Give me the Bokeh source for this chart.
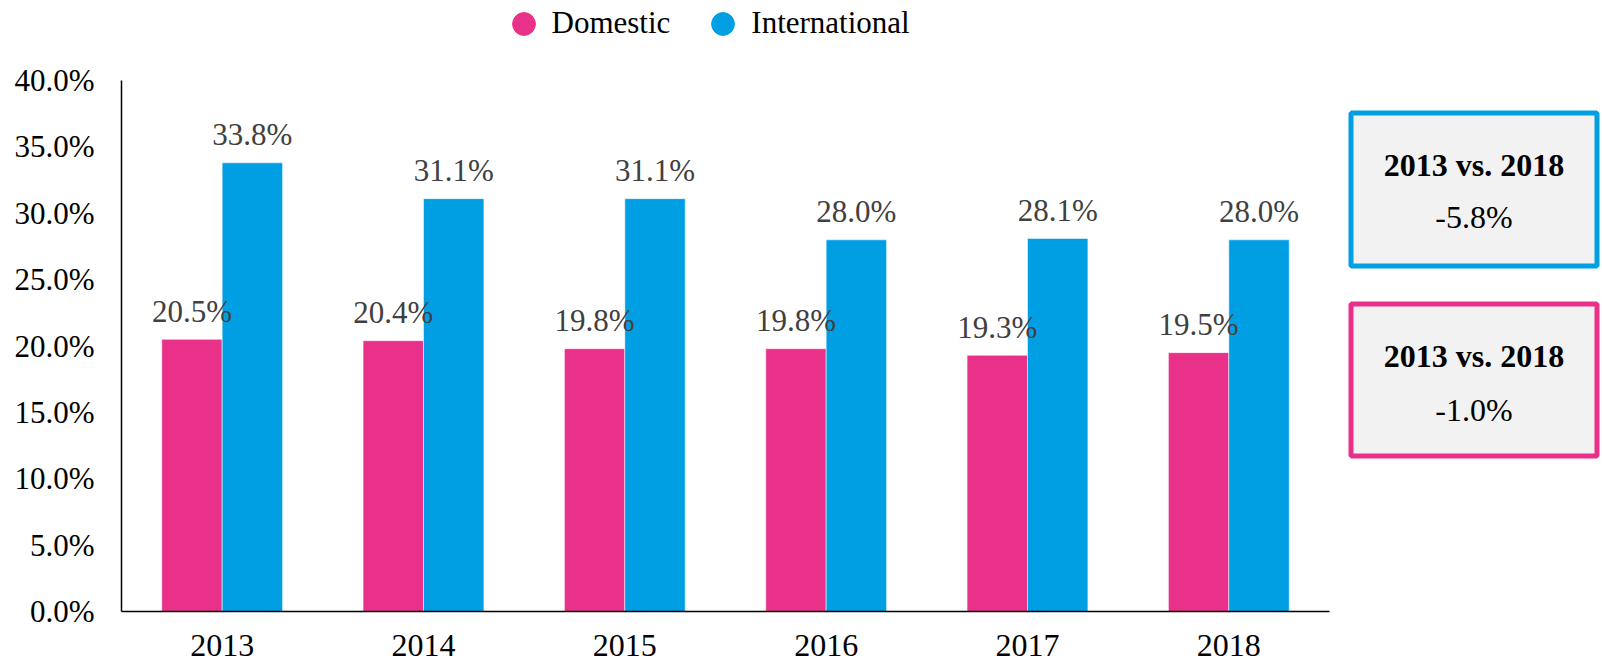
from bokeh.plotting import figure
from bokeh.models import (ColumnDataSource, FactorRange, Range1d, Legend, LegendItem,
                          NumeralTickFormatter, FixedTicker)
from bokeh.transform import dodge
from bokeh.layouts import row
from bokeh.embed import file_html
from bokeh.resources import INLINE
from bokeh.core.properties import value

years = ["2013", "2014", "2015", "2016", "2017", "2018"]
domestic = [20.5, 20.4, 19.8, 19.8, 19.3, 19.5]
international = [33.8, 31.1, 31.1, 28.0, 28.1, 28.0]
series_names = ["Domestic", "International"]
y_ticks = [0, 5, 10, 15, 20, 25, 30, 35, 40]

PINK = "#E9318A"
BLUE = "#009FE3"
FONT = "Liberation Serif"

src = ColumnDataSource(dict(
    year=years,
    dom=[v / 100 for v in domestic],
    intl=[v / 100 for v in international],
    dom_lab=["%.1f%%" % v for v in domestic],
    intl_lab=["%.1f%%" % v for v in international],
))

H = 661
FRAME_BOTTOM = 611          # pixel row of the x axis
AXIS_TOP = 80               # pixel row of the 40% tick
y_max = y_ticks[-1] / 100
y_end = y_max * FRAME_BOTTOM / (FRAME_BOTTOM - AXIS_TOP)

p = figure(x_range=FactorRange(*years, range_padding=0), y_range=Range1d(0, y_end),
           width=1338, height=H, output_backend="svg", toolbar_location=None,
           min_border_left=121, min_border_right=9, min_border_top=0,
           min_border_bottom=H - FRAME_BOTTOM)
p.outline_line_color = None
p.xgrid.grid_line_color = None
p.ygrid.grid_line_color = None

r_dom = p.vbar(x=dodge("year", -0.15, range=p.x_range), top="dom", width=0.3, source=src,
               fill_color=PINK, line_color="white", line_alpha=0.5, line_width=1)
r_int = p.vbar(x=dodge("year", 0.15, range=p.x_range), top="intl", width=0.3, source=src,
               fill_color=BLUE, line_color="white", line_alpha=0.5, line_width=1)

for xoff, col in [(-0.15, "dom"), (0.15, "intl")]:
    p.text(x=dodge("year", xoff, range=p.x_range), y=col, text=col + "_lab", source=src,
           text_align="center", text_baseline="alphabetic", y_offset=-28,
           text_font=value(FONT), text_font_size="31px", text_color="#404040")

# axes
p.yaxis.ticker = FixedTicker(ticks=[t / 100 for t in y_ticks])
p.yaxis.formatter = NumeralTickFormatter(format="0.0%")
p.yaxis.bounds = (0, y_max)
for ax in (p.xaxis[0], p.yaxis[0]):
    ax.major_tick_line_color = None
    ax.minor_tick_line_color = None
    ax.major_tick_out = 0
    ax.major_tick_in = 0
    ax.minor_tick_out = 0
    ax.axis_line_color = "#000000"
    ax.axis_line_width = 1.5
    ax.major_label_text_font = FONT
    ax.major_label_text_color = "#000000"
p.yaxis.major_label_text_font_size = "31px"
p.yaxis.major_label_standoff = 27
p.xaxis.major_label_text_font_size = "32px"
p.xaxis.major_label_standoff = 23

# legend markers (circles); a single invisible point so the legend has a glyph to draw
nan = float("nan")
r_dom_leg = p.scatter(x=[years[0]], y=[nan], marker="circle", fill_color=PINK, line_color=PINK)
r_int_leg = p.scatter(x=[years[0]], y=[nan], marker="circle", fill_color=BLUE, line_color=BLUE)

legend = Legend(items=[LegendItem(label=series_names[0], renderers=[r_dom_leg]),
                       LegendItem(label=series_names[1], renderers=[r_int_leg])],
                orientation="horizontal", location=(373.5, 559.5),
                glyph_width=57, glyph_height=57, label_standoff=0, spacing=24,
                padding=0, margin=0, border_line_color=None, background_fill_alpha=0,
                label_text_font=FONT, label_text_font_size="31px", label_text_color="#000000",
                label_text_baseline="middle")
p.add_layout(legend, "center")

# side panel with the comparison boxes (data units = page pixels)
W2 = 1602 - 1338
q = figure(x_range=Range1d(0, W2), y_range=Range1d(FRAME_BOTTOM, 0), width=W2, height=H,
           output_backend="svg", toolbar_location=None,
           min_border_left=0, min_border_right=0, min_border_top=0,
           min_border_bottom=H - FRAME_BOTTOM)
q.outline_line_color = None
q.axis.visible = False
q.grid.visible = False

first, last = years[0], years[-1]
boxes = ColumnDataSource(dict(
    left=[12.5, 12.5], right=[258.5, 258.5], top=[112.5, 303.5], bottom=[265.5, 455.5],
    color=[BLUE, PINK],
    t1=["%s vs. %s" % (first, last)] * 2,
    t2=["%.1f%%" % (international[-1] - international[0]),
        "%.1f%%" % (domestic[-1] - domestic[0])],
    xc=[135.5, 135.5], y1=[164, 355], y2=[216, 409],
))
q.quad(left="left", right="right", top="top", bottom="bottom", source=boxes,
       fill_color="#F2F2F2", line_color="color", line_width=5)
q.text(x="xc", y="y1", text="t1", source=boxes, text_align="center", text_baseline="alphabetic",
       text_font=value(FONT), text_font_size="32px", text_font_style="bold", text_color="#000000")
q.text(x="xc", y="y2", text="t2", source=boxes, text_align="center", text_baseline="alphabetic",
       text_font=value(FONT), text_font_size="32px", text_color="#000000")

layout = row(p, q, spacing=0)
open("out.html", "w").write(file_html(layout, INLINE))
